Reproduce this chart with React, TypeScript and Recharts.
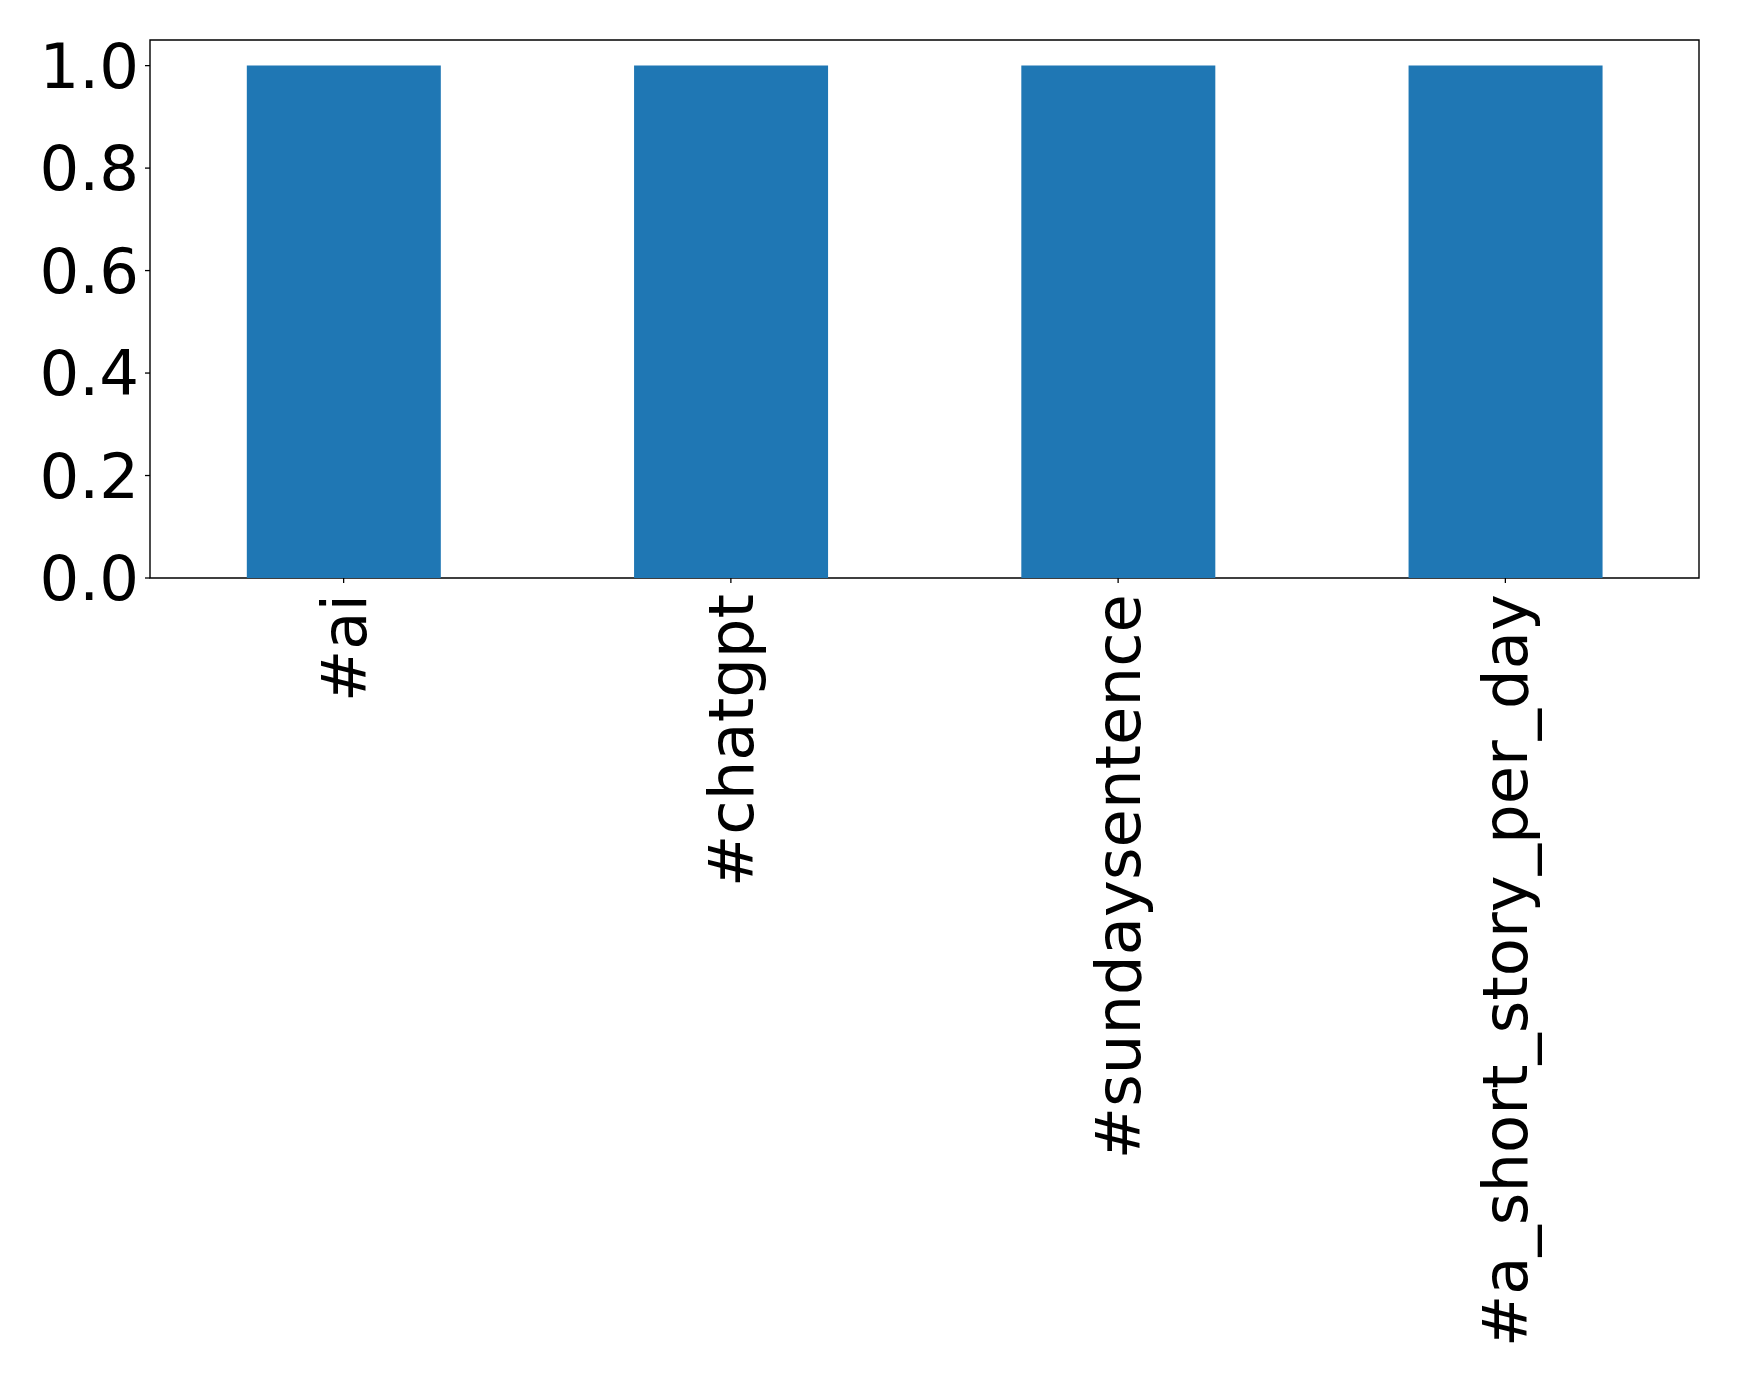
import { FC } from 'react';
import { BarChart, Bar, XAxis, YAxis, ReferenceArea } from 'recharts';

const hashtags = ['#ai', '#chatgpt', '#sundaysentence', '#a_short_story_per_day'];
const counts = [1, 1, 1, 1];
const yTicks = [0, 0.2, 0.4, 0.6, 0.8, 1.0];

const data = hashtags.map((tag, i) => ({ tag, count: counts[i] }));

const FONT = 'DejaVu Sans';
const FONT_SIZE = 62.5;

type TickProps = { x?: number; y?: number; payload?: { value: string } };

// rotated category label, end of text sits just under the tick
const RotatedTick: FC<TickProps> = ({ x = 0, y = 0, payload }) => (
  <text
    x={x}
    y={y}
    dy="0.35em"
    transform={`rotate(-90, ${x}, ${y})`}
    textAnchor="end"
    fontFamily={FONT}
    fontSize={FONT_SIZE}
    fill="#000"
  >
    {payload?.value}
  </text>
);

const App: FC = () => {
  return (
    <div style={{ position: 'absolute', left: 0, top: 0, background: '#fff' }}>
      <BarChart
        width={1739}
        height={1381}
        data={data}
        margin={{ top: 40, right: 40, bottom: 0, left: 0 }}
        barCategoryGap="25%"
      >
        <XAxis
          dataKey="tag"
          height={803}
          interval={0}
          tickSize={5}
          tickMargin={11}
          stroke="#000"
          tickLine={{ stroke: '#000', strokeWidth: 1.3 }}
          axisLine={false}
          tick={<RotatedTick />}
        />
        <YAxis
          width={150}
          domain={[0, 1.05]}
          ticks={yTicks}
          tickFormatter={(v: number) => v.toFixed(1)}
          tickSize={5}
          tickMargin={6}
          axisLine={false}
          tickLine={{ stroke: '#000', strokeWidth: 1.3 }}
          tick={{ fill: '#000', fontFamily: FONT, fontSize: FONT_SIZE }}
        />
        <Bar dataKey="count" fill="#1f77b4" isAnimationActive={false} />
        <ReferenceArea
          y1={0}
          y2={1.05}
          fill="none"
          fillOpacity={0}
          stroke="#000"
          strokeOpacity={1}
          strokeWidth={1.4}
          ifOverflow="visible"
        />
      </BarChart>
    </div>
  );
};

export default App;
